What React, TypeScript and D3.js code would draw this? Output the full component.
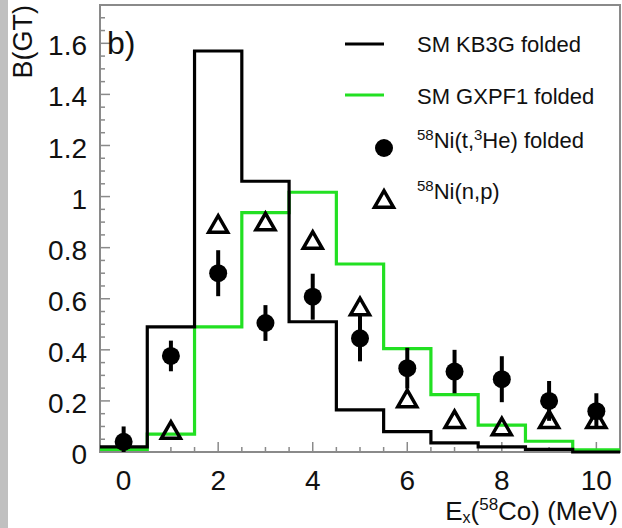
import React from 'react';
import * as d3 from 'd3';

// ---- data ----
const binCenters = [0, 1, 2, 3, 4, 5, 6, 7, 8, 9, 10];
const kb3gFolded = [0.02, 0.49, 1.57, 1.06, 0.51, 0.165, 0.08, 0.036, 0.02, 0.01, 0.0];
const gxpf1Folded = [0.01, 0.07, 0.49, 0.937, 1.017, 0.736, 0.405, 0.225, 0.105, 0.042, 0.008];
const tHeEnergy = [0, 1, 2, 3, 4, 5, 6, 7, 8, 9, 10];
const tHeBGT = [0.04, 0.376, 0.70, 0.505, 0.608, 0.445, 0.328, 0.315, 0.285, 0.20, 0.16];
const tHeErr = [0.06, 0.06, 0.09, 0.07, 0.09, 0.09, 0.08, 0.085, 0.09, 0.078, 0.07];
const npEnergy = [1, 2, 3, 4, 5, 6, 7, 8, 9, 10];
const npBGT = [0.086, 0.893, 0.902, 0.83, 0.57, 0.21, 0.128, 0.10, 0.128, 0.128];
const xTickLabels = [0, 2, 4, 6, 8, 10];
const yTickLabels = [0, 0.2, 0.4, 0.6, 0.8, 1, 1.2, 1.4, 1.6];

const W = 622, H = 528;
const left = 100, right = 620, top = 5, bottom = 452;

const x = d3.scaleLinear().domain([-0.5, 10.5]).range([left, right]);
const y = d3.scaleLinear().domain([0, 1.75]).range([bottom, top]);

function histPath(vals: number[]) {
  const pts: [number, number][] = [];
  binCenters.forEach((c, i) => {
    pts.push([c - 0.5, vals[i]]);
    pts.push([c + 0.5, vals[i]]);
  });
  return d3.line<[number, number]>().x(d => x(d[0])).y(d => y(d[1]))(pts) || '';
}

function triPath(cx: number, cy: number, s: number) {
  const h = s * 0.87;
  return `M${cx - s / 2},${cy + h / 2}L${cx + s / 2},${cy + h / 2}L${cx},${cy - h / 2}Z`;
}

const FONT = '"Liberation Sans", Arial, Helvetica, sans-serif';
const GREEN = '#22e022';
const FRAME = '#8a8a8a';

export default function App() {
  const xMinor = d3.range(-0.5, 10.5001, 0.5);
  const yMinor = d3.range(0, 1.7501, 0.05);
  return (
    <svg width={W} height={H} style={{ position: 'absolute', left: 0, top: 0, background: '#fff' }}
      fontFamily={FONT}>
      <rect x={0} y={0} width={W} height={H} fill="#fff" />
      <rect x={0} y={0} width={8} height={H} fill="#c0c0c0" />
      {/* frame */}
      <rect x={left} y={top} width={right - left} height={bottom - top} fill="none" stroke={FRAME} strokeWidth={2} />
      {/* y ticks */}
      {yMinor.map((v, i) => {
        const major = Math.abs(v / 0.2 - Math.round(v / 0.2)) < 1e-6;
        return <line key={'yt' + i} x1={left} x2={left + (major ? 10 : 5)} y1={y(v)} y2={y(v)} stroke={FRAME} strokeWidth={1.5} />;
      })}
      {/* x ticks */}
      {xMinor.map((v, i) => {
        const major = Math.abs(v / 2 - Math.round(v / 2)) < 1e-6;
        return <line key={'xt' + i} x1={x(v)} x2={x(v)} y1={bottom} y2={bottom - (major ? 10 : 5)} stroke={FRAME} strokeWidth={1.5} />;
      })}
      {/* tick labels */}
      {yTickLabels.map(v => (
        <text key={'yl' + v} x={87} y={y(v) + 2} dy="0.36em" textAnchor="end" fontSize={28} fill="#111">{String(v)}</text>
      ))}
      {xTickLabels.map(v => (
        <text key={'xl' + v} x={x(v)} y={490} textAnchor="middle" fontSize={28} fill="#111">{String(v)}</text>
      ))}
      {/* axis titles */}
      <text x={618} y={520} textAnchor="end" fontSize={26} fill="#111">
        E<tspan fontSize={16} dy={3}>x</tspan><tspan dy={-3}>(</tspan><tspan fontSize={17} dy={-10}>58</tspan><tspan dy={10}>Co) (MeV)</tspan>
      </text>
      <text transform="translate(32,5) rotate(-90)" textAnchor="end" fontSize={27} fill="#111">B(GT)</text>
      <text x={107} y={54} fontSize={32} fill="#111">b)</text>

      {/* histograms */}
      <path d={histPath(gxpf1Folded)} fill="none" stroke={GREEN} strokeWidth={3.2} />
      <path d={histPath(kb3gFolded)} fill="none" stroke="#000" strokeWidth={3.2} />

      {/* (n,p) triangles */}
      {npEnergy.map((e, i) => (
        <path key={'np' + i} d={triPath(x(e), y(npBGT[i]), 19)} fill="none" stroke="#000" strokeWidth={3.5} strokeLinejoin="miter" />
      ))}
      {/* (t,3He) points */}
      {tHeEnergy.map((e, i) => (
        <g key={'th' + i}>
          <line x1={x(e)} x2={x(e)} y1={y(Math.max(0, tHeBGT[i] - tHeErr[i]))} y2={y(tHeBGT[i] + tHeErr[i])} stroke="#000" strokeWidth={4} />
          <circle cx={x(e)} cy={y(tHeBGT[i])} r={9} fill="#000" />
        </g>
      ))}

      {/* legend */}
      <line x1={345} x2={384} y1={44} y2={44} stroke="#000" strokeWidth={3.2} />
      <text x={417} y={44} dy="0.36em" fontSize={22} fill="#111">SM KB3G folded</text>
      <line x1={345} x2={384} y1={95} y2={95} stroke={GREEN} strokeWidth={3.2} />
      <text x={417} y={96} dy="0.36em" fontSize={22} fill="#111">SM GXPF1 folded</text>
      <circle cx={384} cy={148} r={9} fill="#000" />
      <text x={417} y={148} dy="0.36em" fontSize={22} fill="#111">
        <tspan fontSize={15} dy={-8}>58</tspan><tspan dy={8}>Ni(t,</tspan><tspan fontSize={15} dy={-8}>3</tspan><tspan dy={8}>He) folded</tspan>
      </text>
      <path d={triPath(384, 199, 19)} fill="none" stroke="#000" strokeWidth={3.5} />
      <text x={417} y={199} dy="0.36em" fontSize={22} fill="#111">
        <tspan fontSize={15} dy={-8}>58</tspan><tspan dy={8}>Ni(n,p)</tspan>
      </text>
    </svg>
  );
}
